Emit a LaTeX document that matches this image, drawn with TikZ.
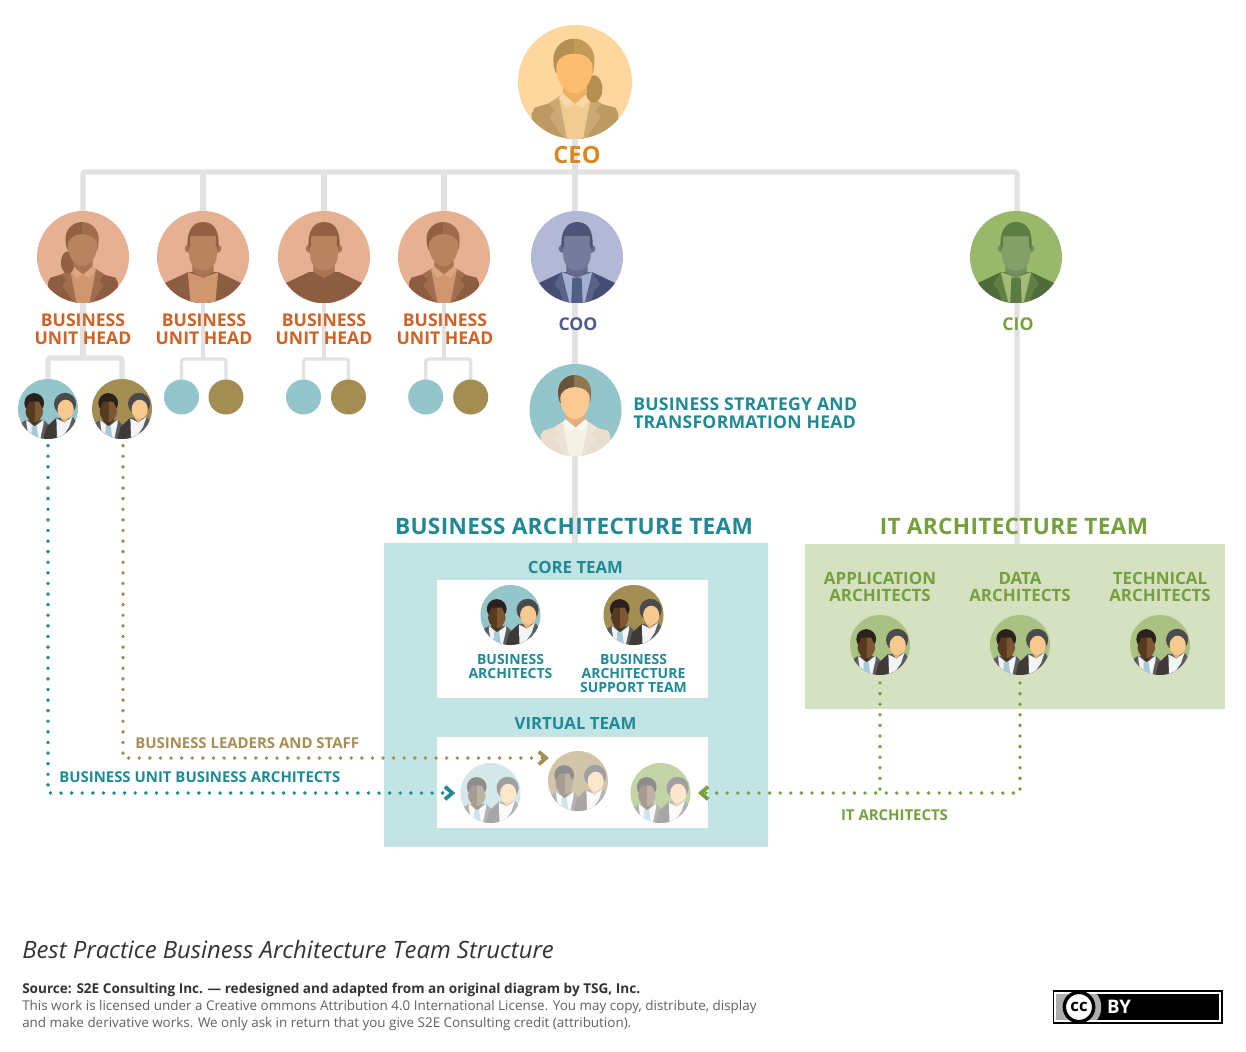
\documentclass[tikz,border=0pt]{standalone}
\usepackage{fontspec}
\setmainfont{Open Sans}
\usetikzlibrary{arrows.meta,backgrounds}
\definecolor{lineGray}{HTML}{E2E2E2}
\definecolor{cOrange}{HTML}{CF6327}
\definecolor{cGold}{HTML}{D68A20}
\definecolor{cNavy}{HTML}{4D5B8D}
\definecolor{cGreen}{HTML}{76A03E}
\definecolor{cTeal}{HTML}{1F8A96}
\definecolor{cOlive}{HTML}{A68F52}
\definecolor{bgTeal}{HTML}{93C5CA}
\definecolor{bgOlive}{HTML}{A38D52}
\definecolor{bgGreen}{HTML}{A9C182}
\definecolor{panelTeal}{HTML}{C2E4E5}
\definecolor{panelGreen}{HTML}{D5E1C0}
% CEO palette
\definecolor{ceoBg}{HTML}{FDD79E}\definecolor{ceoHair}{HTML}{B58F52}\definecolor{ceoHairL}{HTML}{C39A56}
\definecolor{ceoFace}{HTML}{FCBE6E}\definecolor{ceoNeck}{HTML}{EDAF62}\definecolor{ceoJacket}{HTML}{BC9A64}
\definecolor{ceoLapel}{HTML}{CCA873}\definecolor{ceoShirt}{HTML}{F0CC90}\definecolor{ceoCollar}{HTML}{F8D7A8}
% business unit woman
\definecolor{buBg}{HTML}{E6B092}\definecolor{buHair}{HTML}{935F41}\definecolor{buHairL}{HTML}{A06C4C}
\definecolor{buFace}{HTML}{B8835F}\definecolor{buNeck}{HTML}{A87452}\definecolor{buJacket}{HTML}{8D5D41}
\definecolor{buLapel}{HTML}{A06D4E}\definecolor{buShirt}{HTML}{D09670}\definecolor{buCollar}{HTML}{DCA582}
% business unit man in an open shirt
\colorlet{bvBg}{buBg}\colorlet{bvHair}{buHair}\colorlet{bvFace}{buFace}\colorlet{bvNeck}{buNeck}
\colorlet{bvJacket}{buJacket}\colorlet{bvLapel}{buJacket}\colorlet{bvShirt}{buShirt}\colorlet{bvTie}{buShirt}
% plain-shirt man
\colorlet{btBg}{buBg}\colorlet{btHair}{buHair}\colorlet{btFace}{buFace}\colorlet{btNeck}{buNeck}
\colorlet{btJacket}{buJacket}\colorlet{btLapel}{buJacket}\colorlet{btShirt}{buJacket}\colorlet{btTie}{buJacket}
% COO
\definecolor{cooBg}{HTML}{B3B8D6}\definecolor{cooHair}{HTML}{4C5378}\definecolor{cooFace}{HTML}{767B9B}
\definecolor{cooNeck}{HTML}{646A8C}\definecolor{cooJacket}{HTML}{454D75}\definecolor{cooLapel}{HTML}{5A6488}
\definecolor{cooShirt}{HTML}{A4B0D2}\definecolor{cooTie}{HTML}{525E85}
% CIO
\definecolor{cioBg}{HTML}{9AB86C}\definecolor{cioHair}{HTML}{5D7D43}\definecolor{cioFace}{HTML}{859F69}
\definecolor{cioNeck}{HTML}{73905A}\definecolor{cioJacket}{HTML}{4F6B3A}\definecolor{cioLapel}{HTML}{62803F}
\definecolor{cioShirt}{HTML}{A1BD78}\definecolor{cioTie}{HTML}{5C7A44}
% strategy head
\definecolor{baBg}{HTML}{93C5CA}\definecolor{baHair}{HTML}{685438}\definecolor{baHairL}{HTML}{8F7550}
\definecolor{baFace}{HTML}{FBC992}\definecolor{baNeck}{HTML}{E3AE80}\definecolor{baJacket}{HTML}{E9DDCC}
\definecolor{baLapel}{HTML}{EDE3D5}\definecolor{baShirt}{HTML}{F6F0E5}\definecolor{baCollar}{HTML}{FBF8F1}
% two-person icon, normal and faded
\definecolor{tHairM}{HTML}{2A211C}\definecolor{tFaceD}{HTML}{573A20}\definecolor{tFaceL}{HTML}{7D5632}
\definecolor{tNeck}{HTML}{46301C}\definecolor{tJacket}{HTML}{5C5D5F}\definecolor{tJacketD}{HTML}{3F3A38}
\definecolor{tShirt}{HTML}{F2F4F5}\definecolor{tTie}{HTML}{A3C9DA}\definecolor{tHairW}{HTML}{4A4B4D}
\definecolor{tFaceW}{HTML}{F8C98E}\definecolor{tNeckW}{HTML}{E8B47C}
\definecolor{fHairM}{HTML}{8F8D8B}\definecolor{fFaceD}{HTML}{A89C92}\definecolor{fFaceL}{HTML}{BDB2A6}
\definecolor{fNeck}{HTML}{A29688}\definecolor{fJacket}{HTML}{B4B4B5}\definecolor{fJacketD}{HTML}{A8A6A5}
\definecolor{fShirt}{HTML}{FAFAFA}\definecolor{fTie}{HTML}{D0E3EB}\definecolor{fHairW}{HTML}{A0A0A1}
\definecolor{fFaceW}{HTML}{FCE6CC}\definecolor{fNeckW}{HTML}{F4D9BC}
\tikzset{
  disc/.style={circle,inner sep=0pt,outer sep=0pt,minimum size=#1*1.5pt},
  conn/.style={draw=lineGray,line width=3.9pt},
  connthin/.style={draw=lineGray,line width=2.5pt},
  lbl/.style={font=\fontsize{13.2}{13.5}\selectfont\bfseries,align=center,inner sep=0pt},
  lblitem/.style={font=\fontsize{12.7}{13}\selectfont\bfseries,align=center,inner sep=0pt,text=cGreen},
  lblsmall/.style={font=\fontsize{10.5}{10.5}\selectfont\bfseries,align=center,inner sep=0pt},
  lblnote/.style={font=\fontsize{11.2}{10.5}\selectfont\bfseries,align=center,inner sep=0pt},
  team/.style={font=\fontsize{12.6}{13.5}\selectfont\bfseries,text=cTeal,inner sep=0pt},
  title/.style={font=\fontsize{16.95}{18}\selectfont\bfseries\addfontfeature{LetterSpace=1.5},inner sep=0pt},
  dots/.style={line width=2.9pt,line cap=round,dash pattern=on 0pt off 7.95pt},
  chev/.style={-{Straight Barb[length=5.5pt,width=9.5pt,line width=2.8pt]}},
}
\newcommand{\avW}[6]{% name x y r palette pony
  \node[disc=#4,fill=#5Bg] (#1) at (#2,#3) {};
  \begin{scope}[shift={(#2,#3)},x=#4*0.75pt,y=-#4*0.75pt]
    \clip (0,0) circle [radius=1];
    \fill[#5Jacket] (-.76,1.1) -- (-.76,.56) -- (-.71,.45) -- (-.47,.38) -- (-.2,.22) -- (.2,.22) -- (.44,.38) -- (.71,.45) -- (.76,.56) -- (.76,1.1) -- cycle;
    \fill[#5Lapel] (-.22,.22) -- (-.47,.38) -- (-.35,.5) -- (-.45,.62) -- (-.12,1.1) -- (.12,1.1) -- (.45,.62) -- (.35,.5) -- (.47,.38) -- (.22,.22) -- cycle;
    \fill[#5Shirt] (-.28,.28) -- (0,.38) -- (.28,.28) -- (.12,1.1) -- (-.12,1.1) -- cycle;
    \fill[#5Collar] (-.28,.28) -- (-.2,.18) -- (0,.38) -- (.2,.18) -- (.28,.28) -- (.14,.46) -- (0,.38) -- (-.14,.46) -- cycle;
    \ifnum#6=0\else
      \fill[#5Hair] (#6*.33,.12) ellipse [x radius=.15,y radius=.24];
    \fi
    \fill[#5Hair] (-.02,-.76) .. controls (-.22,-.76) and (-.38,-.6) .. (-.38,-.4) .. controls (-.38,-.3) and (-.36,-.2) .. (-.33,-.15) -- (-.02,-.15) -- cycle;
    \fill[#5HairL] (-.02,-.76) .. controls (.18,-.76) and (.34,-.6) .. (.34,-.4) .. controls (.34,-.3) and (.33,-.2) .. (.31,-.15) -- (-.02,-.15) -- cycle;
    \fill[#5Neck] (-.21,-.05) -- (.21,-.05) -- (.21,.2) -- (0,.38) -- (-.21,.2) -- cycle;
    \fill[#5Face] (-.33,-.25) .. controls (-.33,-.58) and (.31,-.58) .. (.31,-.25) .. controls (.31,0) and (.15,.2) .. (-.01,.2) .. controls (-.17,.2) and (-.33,0) .. cycle;
  \end{scope}}
\newcommand{\avM}[6]{% name x y r palette shirt-half-width-at-the-hem
  \node[disc=#4,fill=#5Bg] (#1) at (#2,#3) {};
  \begin{scope}[shift={(#2,#3)},x=#4*0.75pt,y=-#4*0.75pt]
    \clip (0,0) circle [radius=1];
    \fill[#5Jacket] (-.9,1.1) -- (-.9,.6) -- (-.33,.33) -- (.33,.33) -- (.9,.6) -- (.9,1.1) -- cycle;
    \fill[#5Lapel] (-.33,.33) -- (-.5,.6) -- (-.38,.72) -- (-.26,1.1) -- (.26,1.1) -- (.38,.72) -- (.5,.6) -- (.33,.33) -- cycle;
    \fill[#5Shirt] (-.33,.33) -- (-#6,1.1) -- (#6,1.1) -- (.33,.33) -- (0,.45) -- cycle;
    \fill[#5Tie] (-.1,.45) -- (.1,.45) -- (.13,1.1) -- (-.13,1.1) -- cycle;
    \fill[#5Neck] (-.23,0) -- (.23,0) -- (.23,.32) -- (0,.46) -- (-.23,.32) -- cycle;
    \fill[#5Neck] (-.31,-.18) circle [radius=.09];
    \fill[#5Neck] (.31,-.18) circle [radius=.09];
    \fill[#5Face] (-.3,-.45) -- (.3,-.45) -- (.3,-.05) .. controls (.3,.18) and (.15,.3) .. (0,.3) .. controls (-.15,.3) and (-.3,.18) .. (-.3,-.05) -- cycle;
    \fill[#5Hair] (-.33,-.15) .. controls (-.38,-.6) and (-.2,-.76) .. (0,-.76) .. controls (.22,-.76) and (.38,-.6) .. (.33,-.15) -- (.28,-.25) -- (.28,-.45) -- (-.28,-.45) -- (-.28,-.25) -- cycle;
  \end{scope}}
\newcommand{\avT}[6]{% name x y r bg palette
  \node[disc=#4,fill=#5] (#1) at (#2,#3) {};
  \begin{scope}[shift={(#2,#3)},x=#4*0.75pt,y=-#4*0.75pt]
    \clip (0,0) circle [radius=1];
    \fill[#6Jacket] (-.95,1.1) -- (-.95,.5) -- (-.72,.36) -- (-.15,.36) -- (.05,.55) -- (.1,1.1) -- cycle;
    \fill[#6Shirt] (-.72,.36) -- (-.45,.6) -- (-.15,.36) -- (-.15,.5) -- (-.28,1.1) -- (-.62,1.1) -- (-.72,.5) -- cycle;
    \fill[#6Tie] (-.54,.55) -- (-.38,.55) -- (-.32,1) -- (-.45,1.1) -- (-.56,1) -- cycle;
    \fill[#6Neck] (-.62,.1) -- (-.28,.1) -- (-.28,.38) -- (-.45,.56) -- (-.62,.38) -- cycle;
    \fill[#6HairM] (-.46,-.2) circle [radius=.33];
    \fill[#6FaceD] (-.45,-.25) -- (-.62,-.25) -- (-.72,-.05) -- (-.75,.1) .. controls (-.72,.3) and (-.6,.42) .. (-.45,.45) -- cycle;
    \fill[#6FaceL] (-.45,-.25) -- (-.3,-.25) -- (-.2,-.05) -- (-.16,.1) .. controls (-.2,.3) and (-.3,.42) .. (-.45,.45) -- cycle;
    \fill[#6JacketD] (-.18,1.1) -- (-.05,.6) -- (.27,.3) -- (.5,1.1) -- cycle;
    \fill[#6Jacket] (.27,.3) -- (.85,.28) -- (1,.55) -- (1,1.1) -- (.45,1.1) -- cycle;
    \fill[#6Shirt] (.28,.32) -- (.55,.45) -- (.82,.25) -- (.7,.6) -- (.5,.9) -- (.3,1) -- cycle;
    \fill[#6HairW] (.57,-.17) circle [radius=.37];
    \fill[#6NeckW] (.44,.1) -- (.7,.1) -- (.7,.28) -- (.55,.46) -- (.42,.3) -- cycle;
    \fill[#6FaceW] (.59,.01) ellipse [x radius=.27,y radius=.32];
  \end{scope}}
\newcommand{\blank}[4]{\node[disc=#4,fill=#3] (#1) at (#2,397) {};}
\begin{document}
\begin{tikzpicture}[x=0.75pt,y=-0.75pt]
\useasboundingbox (0,0) rectangle (1246,1052);
% panels
\node[fill=panelTeal,inner sep=0pt,minimum width=384*0.75pt,minimum height=304*0.75pt,anchor=north west] (baPanel) at (384,543) {};
\node[fill=white,inner sep=0pt,minimum width=271*0.75pt,minimum height=118*0.75pt,anchor=north west] (corePanel) at (437,580) {};
\node[fill=white,inner sep=0pt,minimum width=271*0.75pt,minimum height=91*0.75pt,anchor=north west] (virtPanel) at (437,737) {};
\node[fill=panelGreen,inner sep=0pt,minimum width=420*0.75pt,minimum height=165*0.75pt,anchor=north west] (itPanel) at (805,544) {};
% people
\avW{ceo}{575}{82}{57}{ceo}{1}
\avW{buA}{83}{257}{46}{bu}{-1}
\avM{buB}{203}{257}{46}{bv}{.26}
\avM{buC}{324}{257}{46}{bt}{.26}
\avW{buD}{444}{257}{46}{bu}{0}
\avM{coo}{577}{257}{46}{coo}{.14}
\avM{cio}{1016}{257}{46}{cio}{.14}
\avW{head}{575.5}{410}{46}{ba}{0}
\avT{aT}{48}{409}{30}{bgTeal}{t}
\avT{aO}{122}{409}{30}{bgOlive}{t}
\blank{bT}{181.5}{bgTeal}{17.5}
\blank{bO}{226}{bgOlive}{17.5}
\blank{cT}{303.5}{bgTeal}{17.5}
\blank{cO}{348.5}{bgOlive}{17.5}
\blank{dT}{425.7}{bgTeal}{17.5}
\blank{dO}{470.7}{bgOlive}{17.5}
\avT{coreA}{510.5}{615}{30}{bgTeal}{t}
\avT{coreB}{633.5}{615}{30}{bgOlive}{t}
\avT{itA}{880}{645}{30}{bgGreen}{t}
\avT{itB}{1020}{645}{30}{bgGreen}{t}
\avT{itC}{1160}{645}{30}{bgGreen}{t}
\avT{vA}{490.5}{793}{30}{bgTeal!40!white}{f}
\avT{vB}{578}{781}{30}{bgOlive!50!white}{f}
\avT{vC}{660.5}{793}{30}{bgGreen!70!white}{f}
% coordinates for the rails
\coordinate (railL) at (83,172);
\coordinate (railR) at (1017,172);
\coordinate (forkA) at (83,358);
\coordinate (forkB) at (203,359);
\coordinate (forkC) at (324,359);
\coordinate (forkD) at (444,359);
% labels
\node[font=\fontsize{17.8}{18}\selectfont\bfseries,text=cGold,inner sep=0pt] (ceoL) at (577,155) {CEO};
\foreach \n/\x in {A/83,B/204,C/324,D/445}
  \node[lbl,text=cOrange] (bu\n L) at (\x,329) {BUSINESS\\UNIT HEAD};
\node[lbl,text=cNavy,fill=white,inner xsep=1pt] (cooL) at (578,324) {COO};
\node[lbl,text=cGreen,fill=white,inner xsep=1pt] (cioL) at (1018,324) {CIO};
\node[lbl,text=cTeal,anchor=west,align=left,font=\fontsize{13.2}{13.2}\selectfont\bfseries\addfontfeature{LetterSpace=1.5}] (headL) at (633,413) {BUSINESS STRATEGY AND\\TRANSFORMATION HEAD};
\node[title,text=cTeal] (baT) at (574,526) {BUSINESS ARCHITECTURE TEAM};
\node[title,text=cGreen] (itT) at (1014,526) {IT ARCHITECTURE TEAM};
\node[team] (coreT) at (575.5,567) {CORE TEAM};
\node[team] (virtT) at (575.5,724) {VIRTUAL TEAM};
\node[lblsmall,text=cTeal] (coreAL) at (510.5,666) {BUSINESS\\ARCHITECTS};
\node[lblsmall,text=cTeal] (coreBL) at (633.5,673) {BUSINESS\\ARCHITECTURE\\SUPPORT TEAM};
\node[lblitem] (itAL) at (880,587) {APPLICATION\\ARCHITECTS};
\node[lblitem] (itBL) at (1020,587) {DATA\\ARCHITECTS};
\node[lblitem] (itCL) at (1160,587) {TECHNICAL\\ARCHITECTS};
\node[lblnote,text=cOlive,anchor=west] (leadL) at (135,743) {BUSINESS LEADERS AND STAFF};
\node[lblnote,text=cTeal,anchor=west] (unitL) at (59,777.5) {BUSINESS UNIT BUSINESS ARCHITECTS};
\node[lblnote,text=cGreen] (itL) at (894.5,815.5) {IT ARCHITECTS};
% footer
\node[anchor=base west,inner sep=0pt,text=black!80,font=\fontsize{17.9}{20}\selectfont\itshape] (capt) at (22,958) {Best Practice Business Architecture Team Structure};
\node[anchor=base west,inner sep=0pt,text=black!80,font=\fontsize{10.18}{12}\selectfont\bfseries] (src) at (22,993) {Source: S2E Consulting Inc. — redesigned and adapted from an original diagram by TSG, Inc.};
\node[anchor=base west,inner sep=0pt,text=black!62,font=\fontsize{10.08}{12}\selectfont] (lic) at (22,1010) {This work is licensed under a Creative ommons Attribution 4.0 International License. You may copy, distribute, display};
\node[anchor=base west,inner sep=0pt,text=black!62,font=\fontsize{10.08}{12}\selectfont] (lic2) at (22,1027) {and make derivative works. We only ask in return that you give S2E Consulting credit (attribution).};
% licence badge
\node[fill=black,inner sep=0pt,minimum width=170.5*0.75pt,minimum height=34*0.75pt,anchor=north west] (cc) at (1052.5,990) {};
\fill[black!32] (1055,993) -- (1096,993) .. controls (1103,1000) and (1103,1014) .. (1096,1021) -- (1055,1021) -- cycle;
\draw[white,line width=0.8pt] (1055,993) rectangle (1220,1021);
\node[circle,fill=white,draw=black,line width=2.6pt,minimum size=22pt,inner sep=0pt,font=\fontsize{12.5}{12}\selectfont\bfseries] (ccI) at (1079,1007) {cc};
\node[inner sep=0pt,text=white,font=\fontsize{14}{14}\selectfont\bfseries] (ccB) at (1119,1007) {BY};
% grey connectors, behind everything
\begin{pgfonlayer}{background}
  \fill[white] (0,0) rectangle (1246,1052);
  \draw[conn,rounded corners=2pt] (buA.center) -- (railL) -- (railR) -- (railR |- itPanel.north);
  \draw[conn] (ceo.south) -- (ceo.south |- baPanel.north);
  \draw[conn] (buB.center) -- (buB |- railL);
  \draw[conn] (buC.center) -- (buC |- railL);
  \draw[conn] (buD.center) -- (buD |- railL);
  \draw[conn] (buA.center) -- (forkA);
  \draw[connthin] (buB.center) -- (forkB);
  \draw[connthin] (buC.center) -- (forkC);
  \draw[connthin] (buD.center) -- (forkD);
  \draw[conn,rounded corners=2pt] (aT.center) |- (forkA) -| (aO.center);
  \draw[connthin,rounded corners=2pt] (bT.center) |- (forkB) -| (bO.center);
  \draw[connthin,rounded corners=2pt] (cT.center) |- (forkC) -| (cO.center);
  \draw[connthin,rounded corners=2pt] (dT.center) |- (forkD) -| (dO.center);
\end{pgfonlayer}
% dotted links
\draw[dots,chev,cTeal,shorten <=5pt,shorten >=4pt] (aT.south) |- (vA.west);
\draw[dots,chev,cOlive,shorten <=5pt,shorten >=7.3pt] ([xshift=0.75pt]aO.south) |- (vB.130);
\draw[dots,chev,cGreen,shorten <=6pt,shorten >=5.6pt] (itB.south) |- (vC.east);
\draw[dots,cGreen,shorten <=6pt] (itA.south) -- (itA.south |- vC.east);
\end{tikzpicture}
\end{document}
